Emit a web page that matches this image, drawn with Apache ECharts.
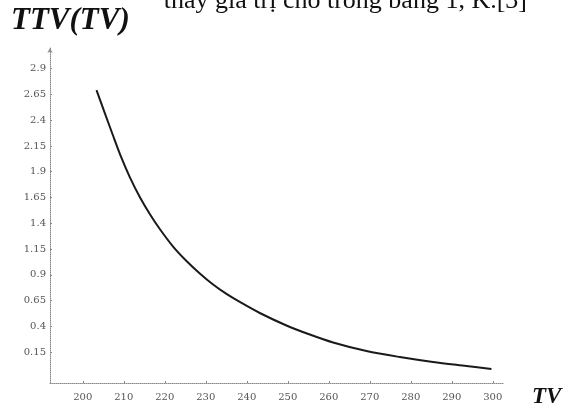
<!DOCTYPE html>
<html>
<head>
<meta charset="utf-8">
<script src="https://cdn.jsdelivr.net/npm/echarts@6/dist/echarts.min.js"></script>
<style>
html,body{margin:0;padding:0;background:#fff;}
#chart{width:570px;height:416px;}
</style>
</head>
<body>
<div id="chart"></div>
<script>
const tvValues = [203.34, 205.37, 207.32, 209.44, 211.46, 213.90, 216.34, 218.78, 222.02, 225.29, 228.54, 231.78, 235.05, 238.29, 243.17, 249.68, 255.37, 261.05, 269.20, 277.32, 285.44, 293.59, 299.68];
const ttvValues = [2.692, 2.469, 2.256, 2.033, 1.848, 1.655, 1.490, 1.344, 1.174, 1.034, 0.913, 0.806, 0.714, 0.636, 0.529, 0.408, 0.320, 0.243, 0.160, 0.102, 0.054, 0.015, -0.014];
const xTickLabels = [200, 210, 220, 230, 240, 250, 260, 270, 280, 290, 300];
const yTickLabels = [0.15, 0.4, 0.65, 0.9, 1.15, 1.4, 1.65, 1.9, 2.15, 2.4, 2.65, 2.9];

const chart = echarts.init(document.getElementById('chart'), null, {renderer: 'canvas'});
const axisLineStyle = {color: '#8a8a8a', width: 1, type: 'dotted'};
chart.setOption({
  animation: false,
  backgroundColor: '#ffffff',
  grid: {left: 50, right: 67, top: 48, bottom: 33, containLabel: false, outerBoundsMode: 'none'},
  xAxis: {
    type: 'value', min: 192, max: 302.5,
    axisLine: {show: true, onZero: false, lineStyle: axisLineStyle, symbol: ['none', 'none']},
    axisTick: {show: true, inside: true, length: 2, customValues: xTickLabels, lineStyle: {color: '#888'}},
    axisLabel: {customValues: xTickLabels, color: '#555', fontSize: 10, fontFamily: 'DejaVu Serif', margin: 9},
    splitLine: {show: false}
  },
  yAxis: {
    type: 'value', min: -0.15, max: 3.1,
    axisLine: {show: true, onZero: false, lineStyle: axisLineStyle, symbol: ['none', 'arrow'], symbolSize: [4, 5]},
    axisTick: {show: true, inside: true, length: 2, customValues: yTickLabels, lineStyle: {color: '#888'}},
    axisLabel: {customValues: yTickLabels, color: '#555', fontSize: 10, fontFamily: 'DejaVu Serif', margin: 4},
    splitLine: {show: false}
  },
  series: [{
    type: 'line',
    data: tvValues.map((v, i) => [v, ttvValues[i]]),
    smooth: 0.3,
    showSymbol: false,
    lineStyle: {color: '#1a1a1a', width: 2}
  }],
  graphic: [
    {type: 'text', left: 11, top: 5, style: {text: 'TTV(TV)', font: 'italic bold 31px "Liberation Serif"', fill: '#111'}},
    {type: 'text', left: 532, top: 386, style: {text: 'TV', font: 'italic bold 23px "Liberation Serif"', fill: '#111'}},
    {type: 'text', x: 527, y: 14, style: {text: 'thấy giá trị cho trong bảng 1, K.[3]', font: '26px "Liberation Serif"', fill: '#111', align: 'right', verticalAlign: 'bottom'}}
  ]
});
</script>
</body>
</html>
